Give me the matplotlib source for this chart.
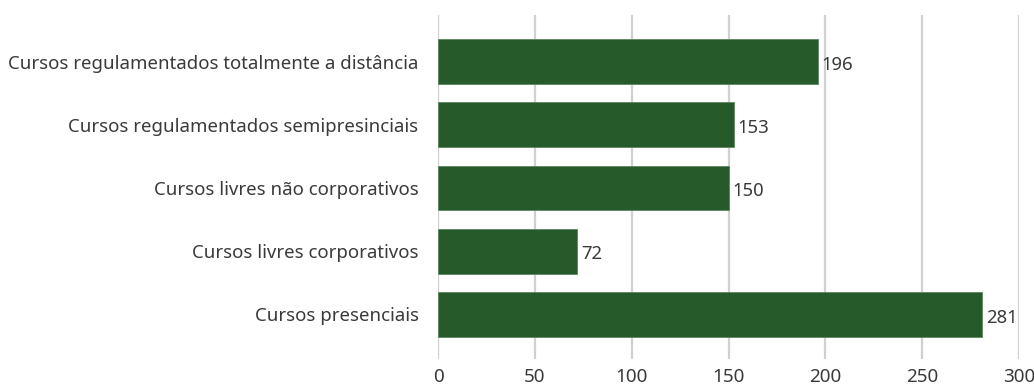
import matplotlib
matplotlib.use('Agg')
import matplotlib.pyplot as plt

categorias = [
    'Cursos regulamentados totalmente a distância',
    'Cursos regulamentados semipresinciais',
    'Cursos livres não corporativos',
    'Cursos livres corporativos',
    'Cursos presenciais',
]
valores = [196, 153, 150, 72, 281]
ticks_x = [0, 50, 100, 150, 200, 250, 300]

plt.rcParams['font.family'] = ['Noto Sans', 'DejaVu Sans']

fig = plt.figure(figsize=(10.34, 3.92), dpi=100)
ax = fig.add_axes([0.4236, 0.085, 0.562, 0.877])

pos = list(range(len(categorias)))
ax.barh(pos, valores, height=0.71, color='#265a2b', edgecolor='#5d8560',
        linewidth=0.6, zorder=3)

for p, v in zip(pos, valores):
    ax.text(v + 1.8, p + 0.05, str(v), va='center', ha='left', fontsize=13.3,
            color='#3a3a3a', zorder=4)

ax.set_xlim(0, 300)
ax.set_ylim(4.70, -0.74)
ax.set_yticks(pos)
ax.set_yticklabels(categorias, fontsize=13.4, color='#3a3a3a')
ax.set_xticks(ticks_x)
ax.set_xticklabels([str(t) for t in ticks_x], fontsize=13.6, color='#3a3a3a')
ax.tick_params(axis='y', length=0, pad=14)
ax.tick_params(axis='x', length=0, pad=7)
ax.grid(axis='x', color='#d0d0d0', linewidth=1.6, zorder=0)
for s in ax.spines.values():
    s.set_visible(False)

fig.savefig('out.png', dpi=100)
